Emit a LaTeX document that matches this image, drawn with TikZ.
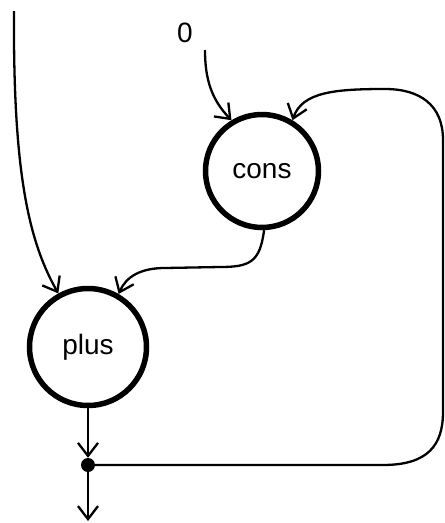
\documentclass[tikz,border=0pt]{standalone}
\usepackage{fontspec}
\setmainfont{Liberation Sans}
\usetikzlibrary{arrows.meta}
\tikzstyle{operator} = [circle, draw=black, line width=5.5pt, minimum size=113pt, inner sep=0pt, font=\fontsize{28}{30}\selectfont]
\tikzstyle{junction} = [circle, fill=black, minimum size=14pt, inner sep=0pt]
\tikzstyle{arrow} = [line width=2.3pt, ->, >={Straight Barb[length=13pt, width=20pt, line width=2.3pt]}]

\begin{document}
\begin{tikzpicture}[x=1pt, y=-1pt]
\useasboundingbox (0,0) rectangle (445,523);

% Nodes
\node (cons) [operator] at (262,171) {cons};
\node (plus) [operator, minimum size=117pt] at (88,347) {plus};
\node (zero) [font=\fontsize{28}{30}\selectfont, inner sep=1pt] at (185,33) {0};
\node (fork) [junction] at (88,465) {};
\coordinate (in) at (14,11);
\coordinate (out) at (88,521);

% Arrows
\draw [arrow] (in) .. controls (13,170) and (28,240) .. (plus.119);
\draw [arrow] (205,50) .. controls (205,80) and (212,100) .. (cons.121);
\draw [arrow] (cons.-88) .. controls (260,262) and (250,267) .. (220,267) -- (165,268) .. controls (140,268) and (126,277) .. (plus.60);
\draw [arrow] (plus.south) -- (fork.north);
\draw [arrow] (fork) -- (out);
\draw [arrow] (fork) -- (383,465) .. controls (428,465) and (443,445) .. (443,412) -- (443,140) .. controls (443,105) and (420,89) .. (385,89) .. controls (335,89) and (302,92) .. (cons.59);

\end{tikzpicture}
\end{document}
